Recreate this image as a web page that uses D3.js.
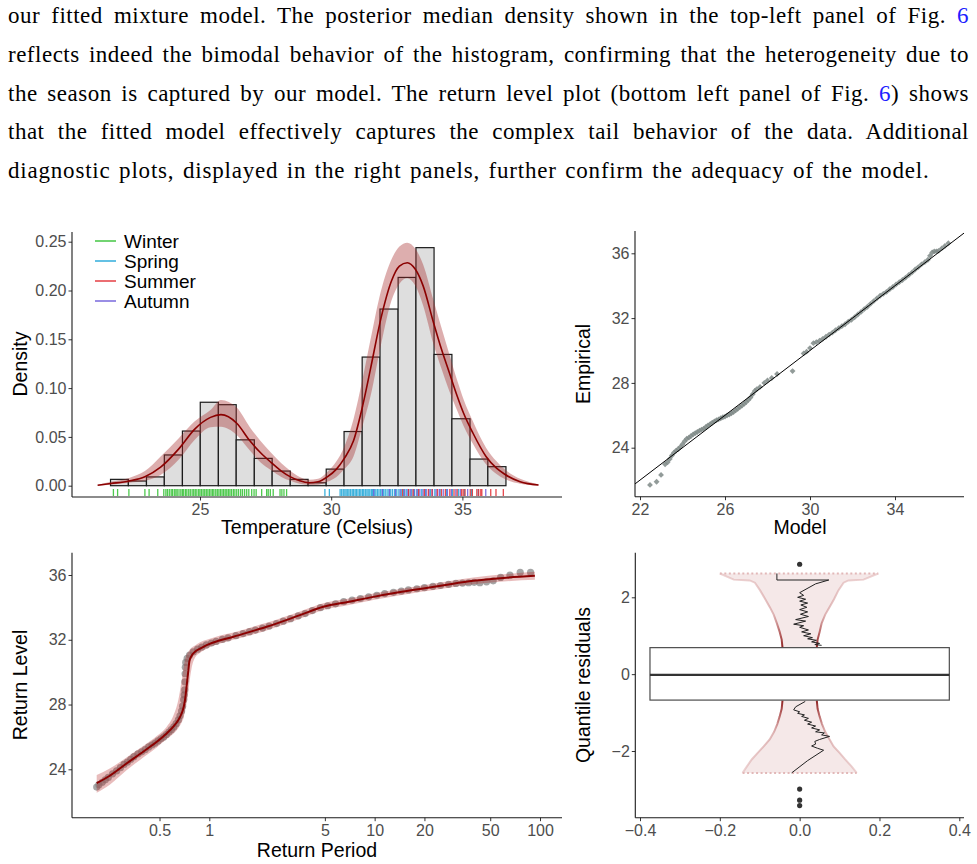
<!DOCTYPE html>
<html>
<head>
<meta charset="utf-8">
<title>Mixture model diagnostics</title>
<style>
    body { margin: 0; background: #fff; }
    #page { position: relative; width: 977px; height: 864px; overflow: hidden; }
    #para {
        position: absolute; left: 8px; top: -3px; width: 961px;
        font-family: "Liberation Serif", "DejaVu Serif", serif;
        font-size: 23px; color: #000; letter-spacing: 0.5px; word-spacing: 1.5px;
    }
    #para div {
        height: 38.75px; line-height: 38.75px; white-space: nowrap;
        text-align: justify; text-align-last: justify;
    }
    #para div.last { text-align-last: left; letter-spacing: 0.8px; word-spacing: 2px; }
    #para span.ref { color: #2020ff; }
    #fig { position: absolute; left: 0; top: 0; }
</style>
</head>
<body>
<div id="page">
    <div id="fig"></div>
    <div id="para"></div>
</div>
<script src="https://d3js.org/d3.v7.min.js"></script>
<script>
// ---- paragraph text (pieces; "6" is the figure reference) ----
const paraLines = [
    ["our fitted mixture model. The posterior median density shown in the top-left panel of Fig. ", "6", ""],
    ["reflects indeed the bimodal behavior of the histogram, confirming that the heterogeneity due to", "", ""],
    ["the season is captured by our model. The return level plot (bottom left panel of Fig. ", "6", ") shows"],
    ["that the fitted model effectively captures the complex tail behavior of the data.  Additional", "", ""],
    ["diagnostic plots, displayed in the right panels, further confirm the adequacy of the model.", "", ""]
];

// ---- top-left: histogram + posterior density ----
const histBreaks = [21.59, 22.27, 22.96, 23.64, 24.33, 25.01, 25.70, 26.38, 27.07, 27.75, 28.44, 29.12,
    29.81, 30.49, 31.18, 31.86, 32.55, 33.23, 33.92, 34.60, 35.29, 35.97, 36.66];
const histDensity = [0.0065, 0.0048, 0.0090, 0.0315, 0.056, 0.0855, 0.083, 0.047, 0.028, 0.015, 0.0065,
    0.003, 0.0170, 0.0555, 0.1318, 0.181, 0.2134, 0.2439, 0.1345, 0.0686, 0.0273, 0.0195];

const densGrid = [21.1, 21.6, 22.3, 22.9, 23.5, 24.2, 24.8, 25.4, 25.8, 26.4, 26.9, 27.3, 27.7, 28.1, 28.45,
    28.8, 29.15, 29.5, 29.85, 30.2, 30.5, 30.85, 31.2, 31.5, 31.9, 32.3, 32.6, 32.9, 33.2, 33.5, 33.9, 34.2,
    34.5, 34.8, 35.05, 35.4, 35.9, 36.3, 36.6, 37.2, 37.9];
const densMedian = [0.0005, 0.0022, 0.0048, 0.0092, 0.019, 0.038, 0.058, 0.070, 0.0728, 0.064, 0.046,
    0.034, 0.024, 0.015, 0.009, 0.005, 0.003, 0.004, 0.009, 0.017, 0.028, 0.046, 0.082, 0.12, 0.172, 0.21,
    0.225, 0.2285, 0.222, 0.205, 0.167, 0.14, 0.116, 0.092, 0.074, 0.054, 0.030, 0.018, 0.012, 0.004, 0.0007];
const densLower = [0.0, 0.001, 0.003, 0.005, 0.011, 0.027, 0.047, 0.060, 0.0605, 0.052, 0.036, 0.024,
    0.016, 0.009, 0.005, 0.002, 0.0008, 0.001, 0.004, 0.009, 0.017, 0.030, 0.062, 0.092, 0.145, 0.19,
    0.207, 0.2125, 0.205, 0.185, 0.145, 0.12, 0.097, 0.077, 0.061, 0.043, 0.022, 0.012, 0.007, 0.002, 0.0];
const densUpper = [0.001, 0.004, 0.008, 0.015, 0.030, 0.049, 0.066, 0.0775, 0.0878, 0.080, 0.060, 0.046,
    0.034, 0.023, 0.015, 0.009, 0.006, 0.007, 0.014, 0.025, 0.040, 0.068, 0.11, 0.15, 0.20, 0.232, 0.245,
    0.249, 0.243, 0.227, 0.19, 0.162, 0.135, 0.108, 0.088, 0.066, 0.039, 0.025, 0.017, 0.007, 0.0015];

const seasons = ["Winter", "Spring", "Summer", "Autumn"];
const seasonColors = ["#2fbf2f", "#1aa3d6", "#e0282e", "#6a58d8"];
const winterTemps = [21.70, 21.86, 22.29, 22.90, 23.06, 23.39, 23.62, 23.70, 23.76, 23.83, 23.90, 23.95,
    24.02, 24.08, 24.13, 24.20, 24.27, 24.33, 24.38, 24.45, 24.50, 24.57, 24.63, 24.70, 24.76, 24.82, 24.88,
    24.95, 25.00, 25.06, 25.12, 25.18, 25.24, 25.30, 25.36, 25.42, 25.48, 25.53, 25.60, 25.66, 25.72, 25.78,
    25.84, 25.90, 25.96, 26.02, 26.08, 26.14, 26.20, 26.27, 26.33, 26.40, 26.47, 26.55, 26.62, 26.70, 26.78,
    26.86, 26.97, 27.06, 27.14, 27.35, 27.54, 27.60, 27.68, 27.79, 28.05, 28.12, 28.20, 28.30];
const springTemps = [29.76, 29.93, 30.34, 30.40, 30.46, 30.52, 30.57, 30.63, 30.68, 30.74, 30.80, 30.85,
    30.91, 30.96, 31.02, 31.08, 31.13, 31.19, 31.24, 31.30, 31.36, 31.41, 31.47, 31.53, 31.58, 31.64, 31.70,
    31.76, 31.82, 31.88, 31.94, 32.00, 32.06, 32.13, 32.20, 32.27, 32.34, 32.42, 32.50, 32.58, 32.67, 32.76,
    32.86, 32.96, 33.07, 33.18, 33.30, 33.45, 33.60, 33.78, 33.95, 34.15, 34.40, 34.62, 34.85, 35.08, 35.35, 35.60];
const summerTemps = [32.72, 32.95, 33.12, 33.33, 33.55, 33.70, 33.84, 34.05, 34.20, 34.35, 34.52, 34.68,
    34.80, 34.97, 35.03, 35.10, 35.30, 35.38, 35.55, 35.62, 35.70, 35.74, 36.08, 36.28, 36.56];
const autumnTemps = [31.62, 31.95, 32.22, 32.45, 32.63, 32.80, 32.92, 33.03, 33.15, 33.26, 33.38, 33.50,
    33.62, 33.73, 33.86, 34.00, 34.12, 34.27, 34.43, 34.58, 34.75, 34.92, 35.20, 35.89];

// ---- top-right: QQ plot ----
const qqModel = [22.47, 22.78, 22.99, 23.18, 23.30, 23.40, 23.50, 23.60, 23.70, 23.80, 23.90, 24.00, 24.10,
    24.20, 24.30, 24.40, 24.50, 24.60, 24.70, 24.80, 24.90, 25.00, 25.10, 25.20, 25.30, 25.40, 25.50, 25.60,
    25.70, 25.80, 25.90, 26.00, 26.10, 26.20, 26.30, 26.40, 26.50, 26.60, 26.70, 26.80, 26.90, 27.00, 27.10,
    27.20, 27.30, 27.40, 27.50, 27.65, 27.85, 28.00, 28.20, 28.45, 29.18, 29.70, 29.84, 30.00, 30.16, 30.30,
    30.45, 30.60, 30.75, 30.90, 31.05, 31.20, 31.35, 31.50, 31.65, 31.80, 31.95, 32.10, 32.25, 32.40, 32.55,
    32.70, 32.85, 33.00, 33.15, 33.30, 33.45, 33.60, 33.75, 33.90, 34.05, 34.20, 34.35, 34.50, 34.65, 34.80,
    34.95, 35.10, 35.25, 35.40, 35.55, 35.65, 35.75, 35.85, 35.95, 36.05, 36.20, 36.35, 36.51];
const qqEmpirical = [21.70, 21.90, 22.32, 22.98, 23.10, 23.30, 23.52, 23.70, 23.82, 23.92, 24.05, 24.22,
    24.40, 24.55, 24.62, 24.72, 24.82, 24.90, 24.97, 25.05, 25.12, 25.18, 25.28, 25.38, 25.45, 25.55, 25.62,
    25.70, 25.75, 25.82, 25.88, 25.92, 26.00, 26.05, 26.12, 26.20, 26.30, 26.40, 26.50, 26.60, 26.70, 26.82,
    26.95, 27.10, 27.30, 27.50, 27.62, 27.75, 28.00, 28.15, 28.30, 28.55, 28.73, 29.82, 29.93, 30.15, 30.45,
    30.52, 30.60, 30.72, 30.85, 30.98, 31.10, 31.25, 31.38, 31.50, 31.62, 31.78, 31.90, 32.05, 32.22, 32.38,
    32.55, 32.70, 32.88, 33.05, 33.22, 33.38, 33.50, 33.62, 33.78, 33.92, 34.08, 34.22, 34.35, 34.50, 34.66,
    34.82, 35.00, 35.15, 35.32, 35.45, 35.60, 35.85, 36.05, 36.12, 36.12, 36.15, 36.30, 36.45, 36.62];

// ---- bottom-left: return levels ----
const rlPeriod = [0.2085, 0.25, 0.317, 0.4, 0.481, 0.55, 0.606, 0.65, 0.681, 0.70, 0.713, 0.725, 0.736,
    0.747, 0.757, 0.78, 0.82, 0.88, 0.964, 1.15, 1.4, 1.8, 2.22, 3.53, 4.89, 7, 9.82, 14, 19.7, 28, 39.5, 60, 93.1];
const rlMedian = [23.14, 23.6, 24.37, 25.1, 25.70, 26.2, 26.63, 27.05, 27.46, 27.85, 28.28, 28.9, 29.51,
    30.1, 30.64, 31.0, 31.26, 31.45, 31.67, 31.95, 32.19, 32.52, 32.80, 33.52, 34.04, 34.35, 34.65, 34.93,
    35.17, 35.42, 35.64, 35.82, 35.95];
const rlLower = [22.55, 23.05, 23.95, 24.75, 25.35, 25.85, 26.2, 26.55, 26.9, 27.2, 27.6, 27.95, 28.3,
    28.8, 29.3, 30.2, 30.9, 31.2, 31.45, 31.75, 32.0, 32.3, 32.58, 33.3, 33.84, 34.15, 34.45, 34.74, 34.98,
    35.22, 35.43, 35.6, 35.7];
const rlUpper = [23.65, 24.05, 24.75, 25.45, 26.05, 26.6, 27.3, 28.3, 29.5, 30.3, 30.75, 31.0, 31.15,
    31.25, 31.35, 31.5, 31.65, 31.85, 32.0, 32.25, 32.45, 32.78, 33.05, 33.75, 34.26, 34.55, 34.85, 35.12,
    35.36, 35.62, 35.85, 36.04, 36.2];
const obsPeriod = [0.2085, 0.215, 0.225, 0.235, 0.245, 0.26, 0.275, 0.29, 0.305, 0.32, 0.335, 0.35, 0.37,
    0.39, 0.41, 0.43, 0.45, 0.47, 0.49, 0.51, 0.53, 0.55, 0.57, 0.59, 0.61, 0.63, 0.65, 0.665, 0.68, 0.69,
    0.70, 0.705, 0.71, 0.712, 0.714, 0.716, 0.72, 0.735, 0.76, 0.80, 0.85, 0.9, 0.96, 1.03, 1.1, 1.2, 1.3,
    1.45, 1.6, 1.75, 1.9, 2.1, 2.3, 2.55, 2.8, 3.1, 3.45, 3.8, 4.2, 4.7, 5.2, 5.8, 6.5, 7.3, 8.2, 9.2, 10.3,
    11.5, 13, 14.5, 16, 18, 20, 22.5, 25, 28, 31, 34, 37, 40, 43.3, 47.5, 52.1, 57.8, 65.8, 75.9, 87.7];
const obsLevel = [22.9, 23.05, 23.2, 23.35, 23.5, 23.72, 23.9, 24.1, 24.3, 24.45, 24.62, 24.78, 24.95,
    25.08, 25.22, 25.38, 25.5, 25.62, 25.75, 25.88, 26.0, 26.15, 26.3, 26.45, 26.62, 26.82, 27.05, 27.3, 27.6,
    27.9, 28.3, 28.6, 28.9, 29.4, 29.9, 30.3, 30.6, 30.85, 31.05, 31.25, 31.42, 31.55, 31.68, 31.8, 31.9,
    32.02, 32.12, 32.25, 32.38, 32.5, 32.6, 32.72, 32.85, 33.0, 33.15, 33.3, 33.48, 33.62, 33.8, 33.98, 34.1,
    34.22, 34.35, 34.45, 34.55, 34.65, 34.75, 34.85, 34.93, 35.0, 35.08, 35.15, 35.22, 35.3, 35.35, 35.42,
    35.48, 35.5, 35.52, 35.55, 35.52, 35.58, 35.64, 35.85, 35.99, 36.16, 36.16];

// ---- bottom-right: quantile residuals ----
const boxQ1 = -0.675, boxMedian = -0.02, boxQ3 = 0.69;
const residOutliers = [2.86, -2.99, -3.28, -3.42];
const upperBandY = [0.69, 0.9, 1.1, 1.32, 1.55, 1.75, 1.95, 2.18, 2.38, 2.44, 2.46, 2.62];
const upperBandLo = [-0.043, -0.045, -0.05, -0.057, -0.065, -0.075, -0.086, -0.099, -0.112, -0.125, -0.165, -0.2];
const upperBandHi = [0.043, 0.045, 0.05, 0.055, 0.064, 0.075, 0.086, 0.097, 0.11, 0.122, 0.16, 0.197];
const lowerBandY = [-0.69, -0.9, -1.1, -1.3, -1.5, -1.7, -1.88, -2.05, -2.22, -2.4, -2.57];
const lowerBandLo = [-0.043, -0.045, -0.05, -0.056, -0.064, -0.075, -0.09, -0.105, -0.12, -0.132, -0.143];
const lowerBandHi = [0.043, 0.045, 0.05, 0.056, 0.064, 0.075, 0.085, 0.1, 0.114, 0.13, 0.143];
const upperWormX = [-0.057, -0.057, 0.073, 0.04, 0.0, 0.01, -0.005, 0.015, 0.0, 0.02, 0.003, 0.018, 0.0,
    0.02, 0.002, 0.022, -0.01, 0.015, -0.015, 0.01, 0.0, 0.022, 0.005, 0.028, 0.01, 0.032, 0.02, 0.042, 0.03,
    0.05, 0.038, 0.055];
const upperWormY = [2.62, 2.45, 2.45, 2.35, 2.12, 2.05, 2.0, 1.95, 1.9, 1.85, 1.8, 1.74, 1.68, 1.62, 1.56,
    1.5, 1.42, 1.38, 1.3, 1.26, 1.22, 1.15, 1.1, 1.05, 1.0, 0.95, 0.92, 0.88, 0.84, 0.8, 0.77, 0.75];
const lowerWormX = [0.014, -0.01, -0.015, 0.0, -0.005, 0.012, 0.005, 0.022, 0.012, 0.03, 0.02, 0.04, 0.03,
    0.05, 0.04, 0.062, 0.055, 0.075, 0.05, 0.038, 0.04, 0.03, 0.045, 0.06, 0.02, -0.02];
const lowerWormY = [-0.71, -0.85, -0.93, -0.98, -1.02, -1.06, -1.1, -1.15, -1.2, -1.25, -1.3, -1.35, -1.4,
    -1.45, -1.5, -1.53, -1.58, -1.62, -1.7, -1.75, -1.82, -1.87, -1.93, -1.98, -2.25, -2.57];

// ================= drawing =================
const para = d3.select("#para");
paraLines.forEach((p, i) => {
    const div = para.append("div").classed("last", i === paraLines.length - 1);
    div.append("span").text(p[0]);
    if (p[1]) div.append("span").attr("class", "ref").text(p[1]);
    if (p[2]) div.append("span").text(p[2]);
});

const svg = d3.select("#fig").append("svg")
    .attr("width", 977).attr("height", 864)
    .style("font-family", '"Liberation Sans", Arial, Helvetica, sans-serif');

const axisColor = "#1a1a1a";

function styleAxis(g) {
    g.attr("font-family", null).attr("font-size", 16);
    g.select(".domain").remove();
    g.selectAll(".tick line").attr("stroke", "#333").attr("stroke-width", 1);
    g.selectAll(".tick text").attr("fill", "#4d4d4d");
}

function axisLines(g, x0, x1, yBase, yTop) {
    g.append("line").attr("x1", x0).attr("x2", x1).attr("y1", yBase).attr("y2", yBase)
        .attr("stroke", axisColor).attr("stroke-width", 1.1);
    g.append("line").attr("x1", x0).attr("x2", x0).attr("y1", yTop).attr("y2", yBase)
        .attr("stroke", axisColor).attr("stroke-width", 1.1);
}

function yTitle(g, x, y, label) {
    g.append("text").attr("transform", `translate(${x},${y}) rotate(-90)`)
        .attr("text-anchor", "middle").attr("font-size", 19.5).attr("fill", "#000").text(label);
}
function xTitle(g, x, y, label) {
    g.append("text").attr("x", x).attr("y", y).attr("text-anchor", "middle")
        .attr("font-size", 19.5).attr("fill", "#000").text(label);
}

// ---------- top-left ----------
{
    const g = svg.append("g");
    const x = d3.scaleLinear().domain([25, 35]).range([200, 462.4]);
    const y = d3.scaleLinear().domain([0, 0.25]).range([485.7, 241.7]);

    g.selectAll("rect.bar").data(histDensity).join("rect").attr("class", "bar")
        .attr("x", (d, i) => x(histBreaks[i]))
        .attr("width", (d, i) => x(histBreaks[i + 1]) - x(histBreaks[i]))
        .attr("y", d => y(d)).attr("height", d => y(0) - y(d))
        .attr("fill", "#dedede").attr("stroke", "#1a1a1a").attr("stroke-width", 1.2);

    const dens = densGrid.map((t, i) => ({ t, m: densMedian[i], lo: densLower[i], hi: densUpper[i] }));
    g.append("path").datum(dens)
        .attr("d", d3.area().x(d => x(d.t)).y0(d => y(d.lo)).y1(d => y(d.hi)).curve(d3.curveMonotoneX))
        .attr("fill", "#a52a2a").attr("fill-opacity", 0.38);
    g.append("path").datum(dens)
        .attr("d", d3.line().x(d => x(d.t)).y(d => y(d.m)).curve(d3.curveMonotoneX))
        .attr("fill", "none").attr("stroke", "#8b0000").attr("stroke-width", 1.6);

    // rug
    const rugSets = [winterTemps, springTemps, autumnTemps, summerTemps];
    const rugCols = [seasonColors[0], seasonColors[1], seasonColors[3], seasonColors[2]];
    rugSets.forEach((set, k) => {
        g.selectAll(null).data(set).join("line")
            .attr("x1", d => x(d)).attr("x2", d => x(d))
            .attr("y1", 489).attr("y2", 496)
            .attr("stroke", rugCols[k]).attr("stroke-width", 1.3).attr("stroke-opacity", 0.85);
    });

    g.append("g").attr("transform", "translate(0,497)")
        .call(d3.axisBottom(x).tickValues([25, 30, 35]).tickSize(3.5).tickPadding(3))
        .call(styleAxis);
    g.append("g").attr("transform", "translate(72,0)")
        .call(d3.axisLeft(y).tickValues([0, 0.05, 0.1, 0.15, 0.2, 0.25]).tickFormat(d3.format(".2f"))
            .tickSize(3.5).tickPadding(2))
        .call(styleAxis);
    axisLines(g, 72, 562, 497, 232);
    xTitle(g, 317, 534, "Temperature (Celsius)");
    yTitle(g, 27, 364, "Density");

    // legend
    const leg = g.append("g");
    seasons.forEach((s, i) => {
        const yy = 241 + i * 20;
        leg.append("line").attr("x1", 95).attr("x2", 116).attr("y1", yy).attr("y2", yy)
            .attr("stroke", seasonColors[i]).attr("stroke-width", 1.6).attr("stroke-opacity", 0.85);
        leg.append("text").attr("x", 124).attr("y", yy + 7).attr("font-size", 19).attr("fill", "#000").text(s);
    });
}

// ---------- top-right ----------
{
    const g = svg.append("g");
    const x = d3.scaleLinear().domain([22, 34]).range([640, 895]);
    const y = d3.scaleLinear().domain([24, 36]).range([447.7, 253.3]);
    const a = x.invert(635), b = x.invert(964);

    const sym = d3.symbol(d3.symbolSquare, 17);
    g.selectAll("path.pt").data(qqModel).join("path").attr("class", "pt")
        .attr("transform", (d, i) => `translate(${x(d)},${y(qqEmpirical[i])}) rotate(45)`)
        .attr("d", sym).attr("fill", "#7f8a87").attr("fill-opacity", 0.85);

    g.append("line").attr("x1", x(a)).attr("y1", y(a)).attr("x2", x(b)).attr("y2", y(b))
        .attr("stroke", "#000").attr("stroke-width", 1);

    g.append("g").attr("transform", "translate(0,496.7)")
        .call(d3.axisBottom(x).tickValues([22, 26, 30, 34]).tickSize(3.5).tickPadding(3))
        .call(styleAxis);
    g.append("g").attr("transform", "translate(635,0)")
        .call(d3.axisLeft(y).tickValues([24, 28, 32, 36]).tickSize(3.5).tickPadding(2))
        .call(styleAxis);
    axisLines(g, 635, 964, 496.7, 231);
    xTitle(g, 800, 534, "Model");
    yTitle(g, 590, 364, "Empirical");
}

// ---------- bottom-left ----------
{
    const g = svg.append("g");
    const x = d3.scaleLog().domain([1, 100]).range([209.3, 540]);
    const y = d3.scaleLinear().domain([24, 36]).range([769.3, 575]);

    g.selectAll("circle.obs").data(obsPeriod).join("circle").attr("class", "obs")
        .attr("cx", d => x(d)).attr("cy", (d, i) => y(obsLevel[i])).attr("r", 3.6)
        .attr("fill", "#808080").attr("fill-opacity", 0.7);

    const rl = rlPeriod.map((p, i) => ({ p, m: rlMedian[i], lo: rlLower[i], hi: rlUpper[i] }));
    g.append("path").datum(rl)
        .attr("d", d3.area().x(d => x(d.p)).y0(d => y(d.lo)).y1(d => y(d.hi)).curve(d3.curveMonotoneX))
        .attr("fill", "#b22222").attr("fill-opacity", 0.3);
    g.append("path").datum(rl)
        .attr("d", d3.line().x(d => x(d.p)).y(d => y(d.m)).curve(d3.curveMonotoneX))
        .attr("fill", "none").attr("stroke", "#8b0000").attr("stroke-width", 2);

    g.append("g").attr("transform", "translate(0,817.7)")
        .call(d3.axisBottom(x).tickValues([0.5, 1, 5, 10, 20, 50, 100]).tickFormat(d => String(d))
            .tickSize(3.5).tickPadding(3))
        .call(styleAxis);
    g.append("g").attr("transform", "translate(72,0)")
        .call(d3.axisLeft(y).tickValues([24, 28, 32, 36]).tickSize(3.5).tickPadding(2))
        .call(styleAxis);
    axisLines(g, 72, 562, 817.7, 552.7);
    xTitle(g, 317, 857, "Return Period");
    yTitle(g, 27, 685, "Return Level");
}

// ---------- bottom-right ----------
{
    const g = svg.append("g");
    const x = d3.scaleLinear().domain([-0.4, 0.4]).range([640, 959.3]);
    const y = d3.scaleLinear().domain([-2, 2]).range([751, 597.3]);

    const defs = svg.append("defs");
    function grad(id, yNear, yFar) {
        const lg = defs.append("linearGradient").attr("id", id).attr("gradientUnits", "userSpaceOnUse")
            .attr("x1", 0).attr("x2", 0).attr("y1", y(yNear)).attr("y2", y(yFar));
        lg.append("stop").attr("offset", 0).attr("stop-color", "#8b1a1a").attr("stop-opacity", 0.95);
        lg.append("stop").attr("offset", 0.18).attr("stop-color", "#a33a3a").attr("stop-opacity", 0.8);
        lg.append("stop").attr("offset", 0.45).attr("stop-color", "#cc8a8a").attr("stop-opacity", 0.6);
        lg.append("stop").attr("offset", 1).attr("stop-color", "#e2b8b8").attr("stop-opacity", 0.6);
    }
    grad("edgeUp", 0.69, 2.62);
    grad("edgeDown", -0.69, -2.57);

    const bands = [
        { ys: upperBandY, lo: upperBandLo, hi: upperBandHi, gid: "edgeUp" },
        { ys: lowerBandY, lo: lowerBandLo, hi: lowerBandHi, gid: "edgeDown" }
    ];
    bands.forEach(b => {
        const pts = b.ys.map((v, i) => ({ v, lo: b.lo[i], hi: b.hi[i] }));
        g.append("path").datum(pts)
            .attr("d", d3.area().y(d => y(d.v)).x0(d => x(d.lo)).x1(d => x(d.hi)).curve(d3.curveLinear))
            .attr("fill", "#a52a2a").attr("fill-opacity", 0.11);
        ["lo", "hi"].forEach(k => {
            g.append("path").datum(pts)
                .attr("d", d3.line().y(d => y(d.v)).x(d => x(d[k])).curve(d3.curveLinear))
                .attr("fill", "none").attr("stroke", `url(#${b.gid})`).attr("stroke-width", 2);
        });
        // outer rim of the band
        const last = pts[pts.length - 1];
        g.append("line").attr("x1", x(last.lo)).attr("x2", x(last.hi)).attr("y1", y(last.v)).attr("y2", y(last.v))
            .attr("stroke", "#e2b8b8").attr("stroke-width", 2).attr("stroke-dasharray", "2,2.5");
    });

    const worms = [[upperWormX, upperWormY], [lowerWormX, lowerWormY]];
    worms.forEach(([wx, wy]) => {
        g.append("path").datum(wx.map((v, i) => [v, wy[i]]))
            .attr("d", d3.line().x(d => x(d[0])).y(d => y(d[1])))
            .attr("fill", "none").attr("stroke", "#222").attr("stroke-width", 1);
    });

    // boxplot
    g.append("rect").attr("x", x(-0.375)).attr("width", x(0.375) - x(-0.375))
        .attr("y", y(boxQ3)).attr("height", y(boxQ1) - y(boxQ3))
        .attr("fill", "#fff").attr("stroke", "#4d4d4d").attr("stroke-width", 1.2);
    g.append("line").attr("x1", x(-0.375)).attr("x2", x(0.375)).attr("y1", y(boxMedian)).attr("y2", y(boxMedian))
        .attr("stroke", "#333").attr("stroke-width", 2.4);
    g.selectAll("circle.out").data(residOutliers).join("circle").attr("class", "out")
        .attr("cx", x(0)).attr("cy", d => y(d)).attr("r", 2.6).attr("fill", "#333");

    g.append("g").attr("transform", "translate(0,817.7)")
        .call(d3.axisBottom(x).tickValues([-0.4, -0.2, 0, 0.2, 0.4]).tickFormat(d3.format(".1f"))
            .tickSize(3.5).tickPadding(3))
        .call(styleAxis);
    g.append("g").attr("transform", "translate(635.3,0)")
        .call(d3.axisLeft(y).tickValues([-2, 0, 2]).tickFormat(d3.format("d")).tickSize(3.5).tickPadding(2))
        .call(styleAxis);
    axisLines(g, 635.3, 964, 817.7, 552.7);
    yTitle(g, 590, 685, "Quantile residuals");
}
</script>
</body>
</html>
